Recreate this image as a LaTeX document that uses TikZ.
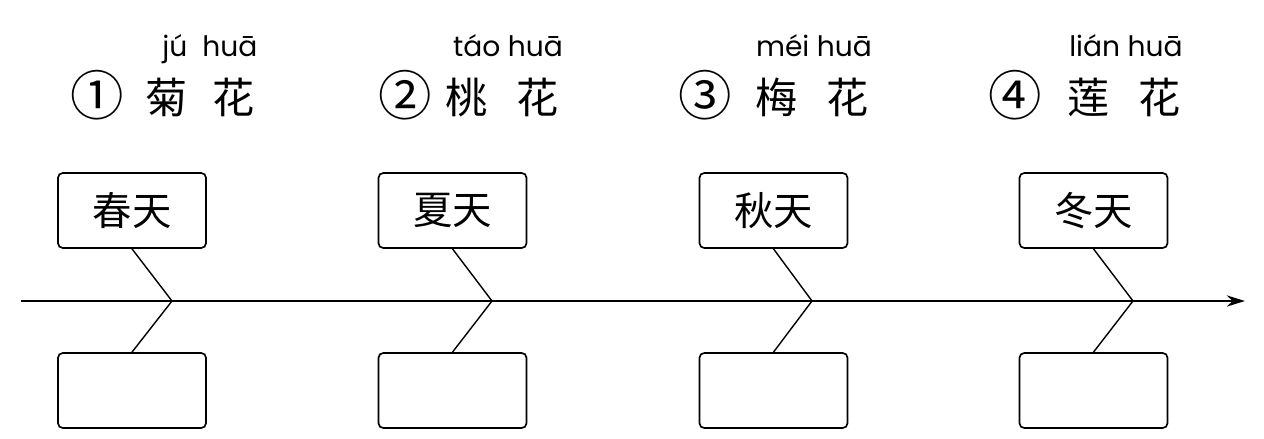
\documentclass[tikz,border=0pt]{standalone}
\usepackage{fontspec}
\usetikzlibrary{arrows.meta,positioning}
\newfontfamily\cjkfont{Noto Sans CJK SC}
\newfontfamily\pyfont{Poppins}
\tikzset{
  seasonbox/.style={draw, rounded corners=1.2mm, line width=1.2pt, minimum width=3.7cm, minimum height=1.875cm, inner sep=0pt, font=\cjkfont\fontsize{28}{28}\selectfont},
  pinyin/.style={anchor=base, font=\pyfont\fontsize{20}{20}\selectfont},
  flower/.style={anchor=base, font=\cjkfont\fontsize{30}{30}\selectfont},
  circnum/.style={anchor=base, font=\cjkfont\fontsize{38}{38}\selectfont},
  bone/.style={line width=1pt}
}

\begin{document}
\begin{tikzpicture}[x=0.025cm, y=-0.025cm, >={Stealth[length=13pt,width=8pt]}]
        \useasboundingbox (0,0) rectangle (1264,439);

        % Time axis
        \coordinate (start) at (21,301);
        \coordinate (end) at (1245,301);
        \draw[->, line width=1.5pt] (start) -- (end);

        % Flower names with pinyin
        \node[pinyin] (py1) at (210,57) {jú\ \ huā};
        \node[circnum] (n1) at (97,116) {①};
        \node[flower] (f1) at (200,114) {菊\kern18pt 花};

        \node[pinyin] (py2) at (508,57) {táo huā};
        \node[circnum] (n2) at (405,116) {②};
        \node[flower] (f2) at (502,114) {桃\kern20pt 花};

        \node[pinyin] (py3) at (814,57) {méi huā};
        \node[circnum] (n3) at (705,116) {③};
        \node[flower] (f3) at (812,114) {梅\kern20pt 花};

        \node[pinyin] (py4) at (1126,57) {lián huā};
        \node[circnum] (n4) at (1015,116) {④};
        \node[flower] (f4) at (1124,114) {莲\kern20pt 花};

        % Seasons (top) and empty answer boxes (bottom)
        \node[seasonbox] (spring) at (132,210.5) {春天};
        \node[seasonbox] (blank1) at (132,390.5) {};
        \coordinate (j1) at (172,301);
        \draw[bone] (spring.south) -- (j1) -- (blank1.north);

        \node[seasonbox] (summer) at (452.5,210.5) {夏天};
        \node[seasonbox] (blank2) at (452.5,390.5) {};
        \coordinate (j2) at (492,301);
        \draw[bone] (summer.south) -- (j2) -- (blank2.north);

        \node[seasonbox] (autumn) at (773.5,210.5) {秋天};
        \node[seasonbox] (blank3) at (773.5,390.5) {};
        \coordinate (j3) at (812,301);
        \draw[bone] (autumn.south) -- (j3) -- (blank3.north);

        \node[seasonbox] (winter) at (1093.5,210.5) {冬天};
        \node[seasonbox] (blank4) at (1093.5,390.5) {};
        \coordinate (j4) at (1133,301);
        \draw[bone] (winter.south) -- (j4) -- (blank4.north);
    \end{tikzpicture}
\end{document}
